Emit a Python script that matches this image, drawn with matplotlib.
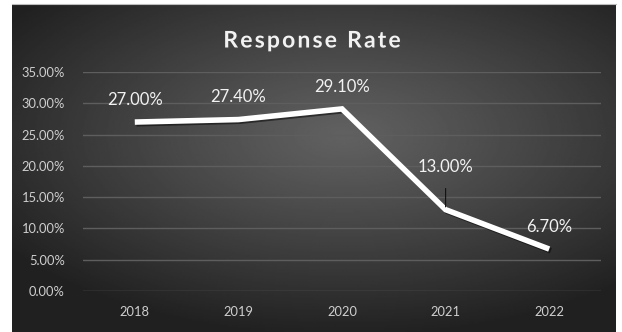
import numpy as np
import matplotlib
matplotlib.use("Agg")
import matplotlib.pyplot as plt
import matplotlib.patheffects as pe
from matplotlib.ticker import FuncFormatter

years = ["2018", "2019", "2020", "2021", "2022"]
rates = [0.270, 0.274, 0.291, 0.130, 0.067]
labels = ["27.00%", "27.40%", "29.10%", "13.00%", "6.70%"]
yticks = [0.0, 0.05, 0.10, 0.15, 0.20, 0.25, 0.30, 0.35]
title = "Response Rate"

W, H = 622, 332
fig = plt.figure(figsize=(W / 100, H / 100), dpi=100)
fig.patch.set_facecolor("white")

# dark panel with radial gradient
px0, px1, py0, py1 = 12, 616, 4, 332
bg = fig.add_axes([px0 / W, 1 - py1 / H, (px1 - px0) / W, (py1 - py0) / H])
nx, ny = 400, 220
xx, yy = np.meshgrid(np.linspace(-1, 1, nx), np.linspace(-1, 1, ny))
r = np.sqrt(((xx - 0.1) * 1.0) ** 2 + ((yy + 0.2) * 1.1) ** 2)
r = np.clip(r / 1.35, 0, 1)
c_center, c_edge = 0.38, 0.13
img = c_center + (c_edge - c_center) * r ** 1.1
bg.imshow(img, cmap="gray", vmin=0, vmax=1, aspect="auto",
          extent=[0, 1, 0, 1], interpolation="bilinear")
bg.set_axis_off()
fig.add_artist(plt.Line2D([px0 / W, px1 / W], [1 - py0 / H, 1 - py0 / H],
                          transform=fig.transFigure, color="#bdbdbd", lw=0.8))

ax = fig.add_axes([83 / W, 1 - 291 / H, (601 - 83) / W, (291 - 72) / H])
ax.patch.set_alpha(0)
x = np.arange(len(years))
ax.set_xlim(-0.5, len(years) - 0.5)
ax.set_ylim(0, 0.35)
ax.set_yticks(yticks)
ax.yaxis.set_major_formatter(FuncFormatter(lambda v, p: f"{v*100:.2f}%"))
ax.set_xticks(x)
ax.set_xticklabels(years)
for s in ax.spines.values():
    s.set_visible(False)
ax.grid(axis="y", color="#5e5e5e", lw=1.0)
ax.set_axisbelow(True)
ax.tick_params(axis="both", length=0, colors="#cfcfcf", labelsize=9.3)
ax.tick_params(axis="y", pad=13)
ax.tick_params(axis="x", pad=11)
for t in ax.get_xticklabels() + ax.get_yticklabels():
    t.set_fontfamily("Lato")

ax.plot(x, rates, color="white", lw=4.0, solid_capstyle="butt",
        solid_joinstyle="miter",
        path_effects=[pe.SimpleLineShadow(offset=(1.2, -1.2), shadow_color="black", alpha=0.5),
                      pe.Normal()], zorder=3)

for i, (xi, v, lab) in enumerate(zip(x, rates, labels)):
    if i == 3:
        ax.annotate(lab, xy=(xi, v), xytext=(0, 31), textcoords="offset points",
                    ha="center", va="center", color="#f2f2f2", fontsize=12,
                    fontfamily="Lato",
                    arrowprops=dict(arrowstyle="-", color="#111111", lw=0.8,
                                    shrinkA=8, shrinkB=2))
    else:
        ax.annotate(lab, xy=(xi, v), xytext=(0, 16), textcoords="offset points",
                    ha="center", va="center", color="#f2f2f2", fontsize=12,
                    fontfamily="Lato")

# letter-spaced title
renderer = fig.canvas.get_renderer()
tsize = 16.5
spacing = 2.2  # px extra per char
widths = []
for ch in title:
    t = fig.text(0, 0, ch if ch != " " else "a", fontsize=tsize, fontweight="bold",
                 fontfamily="Lato")
    w = t.get_window_extent(renderer).width
    if ch == " ":
        w *= 0.5
    widths.append(w)
    t.remove()
total = sum(widths) + spacing * (len(title) - 1)
cx = 312 - total / 2
for ch, w in zip(title, widths):
    if ch != " ":
        fig.text(cx / W, 1 - 41 / H, ch, ha="left", va="center", color="#f2f2f2",
                 fontsize=tsize, fontweight="bold", fontfamily="Lato",
                 path_effects=[pe.withSimplePatchShadow(offset=(1, -1), alpha=0.6)])
    cx += w + spacing

fig.savefig("out.png", dpi=100, facecolor=fig.get_facecolor())
